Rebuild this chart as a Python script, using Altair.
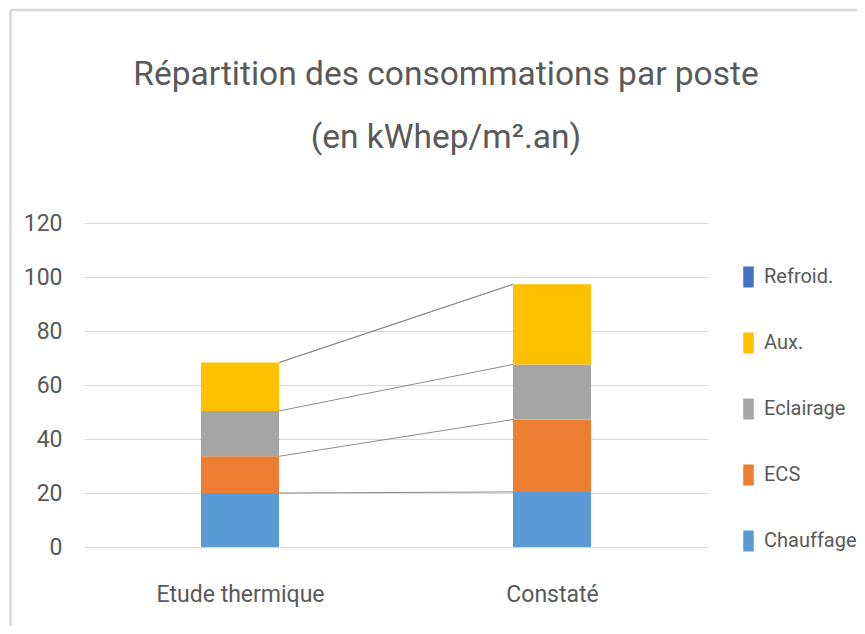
import json
import altair as alt
import pandas as pd

# ---- data ----
categories = ["Etude thermique", "Constaté"]
series = ["Chauffage", "ECS", "Eclairage", "Aux.", "Refroid."]
chauffage = [20.0, 20.4]
ecs = [13.6, 26.8]
eclairage = [16.8, 20.4]
aux = [17.9, 29.7]
refroid = [0.0, 0.0]
legend_order = ["Refroid.", "Aux.", "Eclairage", "ECS", "Chauffage"]
legend_colors = ["#4472C4", "#FFC000", "#A5A5A5", "#ED7D31", "#5B9BD5"]
y_ticks = [0, 20, 40, 60, 80, 100, 120]
title_lines = ["Répartition des consommations par poste", "(en kWhep/m².an)"]

FONT = "Roboto"
TEXT = "#595959"
HALF = 0.125  # half bar width in x units

values = [chauffage, ecs, eclairage, aux, refroid]
rows = []
tops = {s: [] for s in series}
for ci, cat in enumerate(categories):
    cum = 0.0
    for si, s in enumerate(series):
        v = values[si][ci]
        rows.append(dict(cat=cat, left=ci + 0.5 - HALF, right=ci + 0.5 + HALF,
                         serie=s, value=v, y0=cum, y1=cum + v))
        cum += v
        tops[s].append(cum)
bars_df = pd.DataFrame(rows)

line_rows = []
for s in series:
    line_rows.append(dict(serie=s, x_from=0.5 + HALF, x_to=1.5 - HALF,
                          y_from=tops[s][0], y_to=tops[s][1]))
lines_df = pd.DataFrame(line_rows)

label_expr = "%s[floor(datum.value)]" % json.dumps(categories, ensure_ascii=False)

x_scale = alt.Scale(domain=[0, 2], nice=False, zero=False)
y_scale = alt.Scale(domain=[0, 120], nice=False)

x_axis = alt.Axis(values=[0.5, 1.5], labelExpr=label_expr, grid=False, ticks=False,
                  domain=False, title=None, labelPadding=36, labelFontSize=23,
                  labelColor=TEXT, labelFont=FONT, labelLimit=400)
y_axis = alt.Axis(values=y_ticks, grid=True, gridColor="#D9D9D9", gridWidth=1,
                  ticks=False, domain=False, title=None, labelPadding=22,
                  labelFontSize=23, labelColor=TEXT, labelFont=FONT)

bars = alt.Chart(bars_df).mark_bar().encode(
    x=alt.X("left:Q", scale=x_scale, axis=x_axis),
    x2="right:Q",
    y=alt.Y("y0:Q", scale=y_scale, axis=y_axis),
    y2="y1:Q",
    color=alt.Color("serie:N",
                    scale=alt.Scale(domain=legend_order, range=legend_colors),
                    legend=alt.Legend(
                        title=None, orient="none", legendX=654, legendY=43.5,
                        symbolType="M-0.5,-1H0.5V1H-0.5Z", symbolSize=441,
                        symbolStrokeWidth=0, labelFontSize=20, labelFont=FONT,
                        labelColor=TEXT, labelOffset=5, rowPadding=45, padding=0,
                        labelLimit=300)),
)

connectors = alt.Chart(lines_df).mark_rule(color="#8C8C8C", strokeWidth=1).encode(
    x="x_from:Q", x2="x_to:Q", y="y_from:Q", y2="y_to:Q"
)

frame_df = pd.DataFrame({"k": [0]})
frame_left = alt.Chart(frame_df).mark_rule(color="#D9D9D9", strokeWidth=2.5).encode(
    x=alt.value(-73.5), y=alt.value(-213), y2=alt.value(420))
frame_top = alt.Chart(frame_df).mark_rule(color="#D9D9D9", strokeWidth=2.5).encode(
    y=alt.value(-213), x=alt.value(-73.5), x2=alt.value(800))

chart = alt.layer(frame_left, frame_top, connectors, bars).properties(
    width=624, height=324,
    autosize=alt.AutoSizeParams(type="none"),
    padding={"left": 76, "top": 215, "right": 149, "bottom": 79},
    title=alt.TitleParams(text=title_lines, fontSize=33.5, font=FONT, color=TEXT,
                          fontWeight="normal", anchor="middle", frame="group",
                          dx=50, dy=180, lineHeight=63, baseline="bottom", offset=0),
).configure_view(stroke=None)

chart.save("out.html", embed_options={"renderer": "svg", "actions": False})
